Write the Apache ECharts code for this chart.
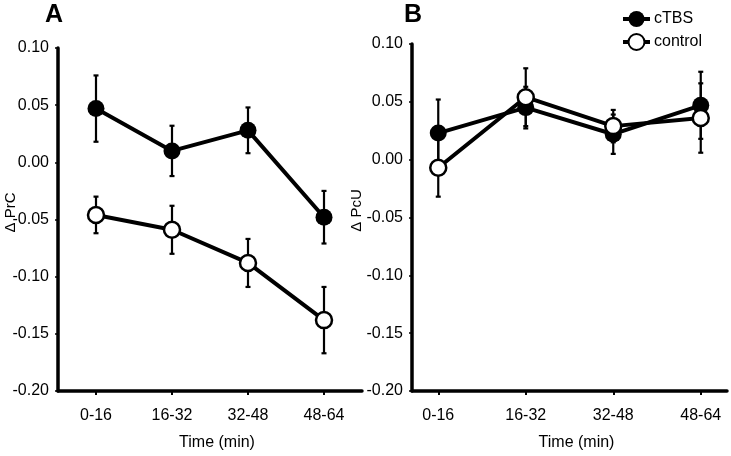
<!DOCTYPE html>
<html><head><meta charset="utf-8">
<script src="https://cdn.jsdelivr.net/npm/echarts@6/dist/echarts.min.js"></script>
<style>html,body{margin:0;padding:0;background:#fff}#c{width:731px;height:456px}</style>
</head><body><div id="c"></div>
<script>
const categories = ['0-16', '16-32', '32-48', '48-64'];
const yTicks = [-0.20, -0.15, -0.10, -0.05, 0.00, 0.05, 0.10];
// Panel A (ΔPrC)
const A_cTBS = [0.047, 0.010, 0.028, -0.048];
const A_cTBS_err = [0.029, 0.022, 0.020, 0.023];
const A_control = [-0.046, -0.059, -0.088, -0.138];
const A_control_err = [0.016, 0.021, 0.021, 0.029];
// Panel B (ΔPcU)
const B_cTBS = [0.023, 0.045, 0.022, 0.047];
const B_cTBS_err = [0.029, 0.018, 0.017, 0.029];
const B_control = [-0.007, 0.054, 0.029, 0.036];
const B_control_err = [0.025, 0.025, 0.014, 0.030];

const FONT = 'Liberation Sans, Arial, sans-serif';
const idx = categories.map((_, i) => i);
const pts = arr => arr.map((v, i) => [i, v]);
const errPts = (vals, errs) => vals.map((v, i) => [i, v, errs[i]]);

function xAxis(gi, min, max) {
  return {
    type: 'value', gridIndex: gi, min: min, max: max,
    name: 'Time (min)', nameLocation: 'middle', nameGap: 44, nameMoveOverlap: false,
    nameTextStyle: { fontSize: 16, color: '#000', fontFamily: FONT, padding: [0, 0, 0, 14] },
    axisLine: { show: true, onZero: false, lineStyle: { color: '#000', width: 3.5 } },
    axisTick: { show: true, length: 4, lineStyle: { color: '#000', width: 2 }, customValues: idx },
    axisLabel: { fontSize: 16, color: '#000', fontFamily: FONT, margin: 17, customValues: idx,
      formatter: v => categories[Math.round(v)] },
    splitLine: { show: false }
  };
}
function yAxis(gi, name, gap) {
  return {
    type: 'value', gridIndex: gi, min: -0.2, max: 0.1, interval: 0.05,
    name: name, nameLocation: 'middle', nameGap: gap, nameRotate: 90, nameMoveOverlap: false,
    nameTextStyle: { fontSize: 15, color: '#000', fontFamily: FONT, padding: [0, 0, 0, 14] },
    axisLine: { show: true, onZero: false, lineStyle: { color: '#000', width: 3.5 } },
    axisTick: { show: true, length: 3, lineStyle: { color: '#000', width: 1.5 } },
    axisLabel: { fontSize: 16, color: '#000', fontFamily: FONT, margin: 9,
      formatter: v => v.toFixed(2) },
    splitLine: { show: false }
  };
}
function errSeries(gi, vals, errs) {
  return {
    type: 'custom', xAxisIndex: gi, yAxisIndex: gi, z: 1, silent: true,
    data: errPts(vals, errs),
    renderItem: function (params, api) {
      const x = api.value(0), v = api.value(1), e = api.value(2);
      const top = api.coord([x, v + e]);
      const bot = api.coord([x, v - e]);
      const hw = 2.5;
      const st = { stroke: '#000', lineWidth: 2.2 };
      return { type: 'group', children: [
        { type: 'line', shape: { x1: top[0], y1: top[1], x2: bot[0], y2: bot[1] }, style: st },
        { type: 'line', shape: { x1: top[0] - hw, y1: top[1], x2: top[0] + hw, y2: top[1] }, style: st },
        { type: 'line', shape: { x1: bot[0] - hw, y1: bot[1], x2: bot[0] + hw, y2: bot[1] }, style: st }
      ]};
    }
  };
}
function lineSeries(gi, name, vals, filled) {
  return {
    type: 'line', name: name, xAxisIndex: gi, yAxisIndex: gi, z: filled ? 3 : 4,
    data: pts(vals), symbol: 'circle', symbolSize: filled ? 17 : 16,
    lineStyle: { color: '#000', width: 4 },
    itemStyle: filled ? { color: '#000', borderColor: '#000', borderWidth: 0 }
                      : { color: '#fff', borderColor: '#000', borderWidth: 2.5 },
    emphasis: { disabled: true }, animation: false
  };
}

const chart = echarts.init(document.getElementById('c'), null, { renderer: 'canvas' });
chart.setOption({
  animation: false,
  backgroundColor: '#fff',
  title: [
    { text: 'A', left: 40, top: -2, textStyle: { fontSize: 25, fontWeight: 'bold', color: '#000', fontFamily: FONT } },
    { text: 'B', left: 399, top: -2, textStyle: { fontSize: 25, fontWeight: 'bold', color: '#000', fontFamily: FONT } }
  ],
  legend: {
    data: ['cTBS', 'control'], orient: 'vertical', left: 616, top: 6,
    itemWidth: 27, itemHeight: 20, itemGap: 6,
    lineStyle: { width: 4 },
    textStyle: { fontSize: 16, color: '#000', fontFamily: FONT, padding: [0, 0, 0, -1] }
  },
  grid: [
    { left: 58, top: 48, width: 304, height: 344 },
    { left: 412, top: 44, width: 315, height: 348 }
  ],
  xAxis: [xAxis(0, -0.5, 3.5), xAxis(1, -0.3, 3.3)],
  yAxis: [yAxis(0, 'Δ PrC', 40), yAxis(1, 'Δ PcU', 48)],
  series: [
    errSeries(0, A_cTBS, A_cTBS_err),
    errSeries(0, A_control, A_control_err),
    lineSeries(0, 'cTBS', A_cTBS, true),
    lineSeries(0, 'control', A_control, false),
    errSeries(1, B_cTBS, B_cTBS_err),
    errSeries(1, B_control, B_control_err),
    lineSeries(1, 'cTBS', B_cTBS, true),
    lineSeries(1, 'control', B_control, false)
  ]
});
</script></body></html>
